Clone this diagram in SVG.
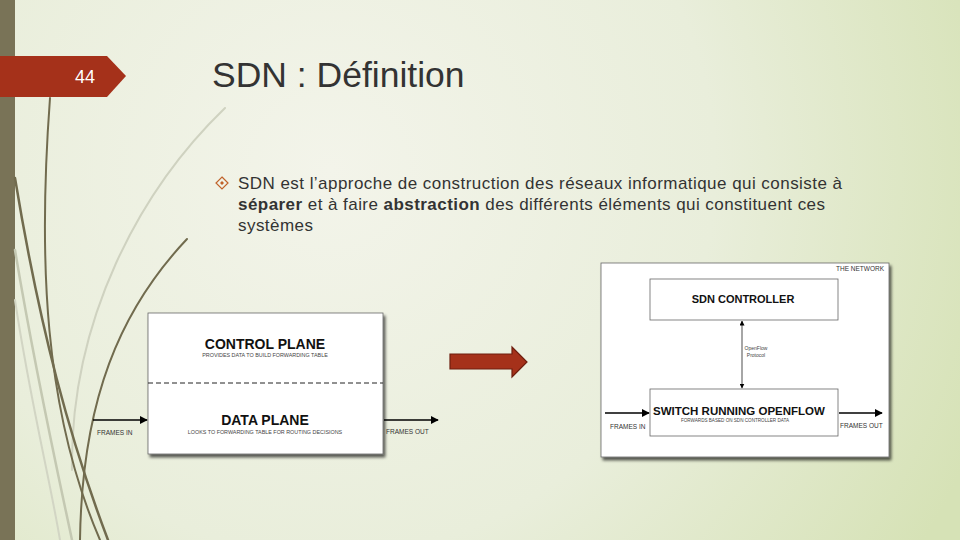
<svg xmlns="http://www.w3.org/2000/svg" width="960" height="540" viewBox="0 0 960 540">
<defs>
<radialGradient id="bg" cx="330" cy="170" r="700" gradientUnits="userSpaceOnUse">
<stop offset="0" stop-color="#f3f4ea"/>
<stop offset="0.55" stop-color="#e9eedb"/>
<stop offset="1" stop-color="#d6e2b6"/>
</radialGradient>
<filter id="sh" x="-10%" y="-10%" width="130%" height="130%">
<feGaussianBlur in="SourceAlpha" stdDeviation="1.8"/>
<feOffset dx="1.5" dy="2.5" result="b"/>
<feComponentTransfer><feFuncA type="linear" slope="0.65"/></feComponentTransfer>
<feMerge><feMergeNode/><feMergeNode in="SourceGraphic"/></feMerge>
</filter>
<marker id="ah" viewBox="0 0 10 10" refX="9" refY="5" markerWidth="8" markerHeight="8" markerUnits="userSpaceOnUse" orient="auto">
<path d="M0,0 L10,5 L0,10 z" fill="#000"/>
</marker>
<marker id="ahs" viewBox="0 0 10 10" refX="9" refY="5" markerWidth="5" markerHeight="5" markerUnits="userSpaceOnUse" orient="auto-start-reverse">
<path d="M0,0 L10,5 L0,10 z" fill="#000"/>
</marker>
<style>
.body{font-family:"Liberation Sans",Arial,sans-serif;font-size:17px;fill:#333}
.b{font-weight:bold}
.big{font-family:"Liberation Sans",Arial,sans-serif;font-weight:bold;fill:#111;text-anchor:middle}
.sm{font-family:"Liberation Sans",Arial,sans-serif;fill:#444;text-anchor:middle}
.lbl{font-family:"Liberation Sans",Arial,sans-serif;font-size:6.5px;fill:#333}
.box{fill:#fff;stroke:#666;stroke-width:0.8}
.conn{stroke:#000;fill:none}
.grass{fill:none;stroke-linecap:round}
</style>
</defs>
<rect width="960" height="540" fill="url(#bg)"/>
<rect x="0" y="0" width="15" height="540" fill="#797357"/>
<g id="grass">
<path class="grass" d="M225,108 C140,190 70,320 72,470" stroke="#cfd2c0" stroke-width="2"/>
<path class="grass" d="M15,250 C35,370 55,460 72,540" stroke="#c4c8b2" stroke-width="2.5"/>
<path class="grass" d="M15,300 C30,400 50,480 60,540" stroke="#d2d5c4" stroke-width="2"/>
<path class="grass" d="M50,98 C38,260 44,410 100,540" stroke="#716b4e" stroke-width="2"/>
<path class="grass" d="M15,178 C40,330 70,440 108,540" stroke="#716b4e" stroke-width="2.5"/>
<path class="grass" d="M187,239 C120,310 82,400 80,540" stroke="#716b4e" stroke-width="2"/>
</g>
<g id="slide-number">
<path d="M0,56 L107,56 L126,76 L107,97 L0,97 z" fill="#a5311a"/>
<text x="85" y="83" font-family="Liberation Sans,Arial,sans-serif" font-size="18" fill="#fff" text-anchor="middle">44</text>
</g>
<text x="212" y="87" font-family="Liberation Sans,Arial,sans-serif" font-size="35.5" fill="#333">SDN : Définition</text>
<g id="bullet">
<path d="M222,177 L228,183 L222,189 L216,183 z" fill="none" stroke="#c0622a" stroke-width="1.2"/>
<path d="M222,181 L224,183 L222,185 L220,183 z" fill="#c0622a"/>
<text class="body" x="238" y="189" textLength="604" lengthAdjust="spacing">SDN est l’approche de construction des réseaux informatique qui consiste à</text>
<text class="body" x="238" y="210" textLength="587" lengthAdjust="spacing"><tspan class="b">séparer</tspan> et à faire <tspan class="b">abstraction</tspan> des différents éléments qui constituent ces</text>
<text class="body" x="238" y="231" textLength="75" lengthAdjust="spacing">systèmes</text>
</g>
<g id="traditional">
<rect class="box" x="148" y="313" width="235" height="141" filter="url(#sh)"/>
<line x1="148" y1="383" x2="383" y2="383" stroke="#222" stroke-width="1" stroke-dasharray="5,3"/>
<text class="big" x="265" y="349" font-size="14">CONTROL PLANE</text>
<text class="sm" x="265" y="357" font-size="5.4">PROVIDES DATA TO BUILD FORWARDING TABLE</text>
<text class="big" x="265" y="425" font-size="14">DATA PLANE</text>
<text class="sm" x="265" y="434" font-size="5.4">LOOKS TO FORWARDING TABLE FOR ROUTING DECISIONS</text>
<text class="lbl" x="97" y="435">FRAMES IN</text>
<text class="lbl" x="386" y="434">FRAMES OUT</text>
</g>
<g id="big-arrow">
<path d="M450,354 L512,354 L512,347 L527,362 L512,377 L512,369 L450,369 z" fill="#a5311a" stroke="#6e1e0e" stroke-width="1.2"/>
</g>
<g id="sdn">
<rect class="box" x="601" y="263" width="288" height="194" filter="url(#sh)"/>
<text class="lbl" x="836" y="271" font-size="5.8">THE NETWORK</text>
<g id="controller">
<rect class="box" x="650" y="279" width="188" height="41"/>
<text class="big" x="743" y="303" font-size="11">SDN CONTROLLER</text>
</g>
<g id="switch">
<rect class="box" x="650" y="389" width="188" height="47"/>
<text class="big" x="739" y="415" font-size="11.5">SWITCH RUNNING OPENFLOW</text>
<text class="sm" x="735" y="422" font-size="4.6">FORWARDS BASED ON SDN CONTROLLER DATA</text>
</g>
<text class="sm" x="756" y="350" font-size="5">OpenFlow</text>
<text class="sm" x="756" y="357" font-size="5">Protocol</text>
<text class="lbl" x="610" y="429" font-size="5.8">FRAMES IN</text>
<text class="lbl" x="840" y="428" font-size="5.8">FRAMES OUT</text>
</g>
<g id="connectors">
<line class="conn" x1="93" y1="420" x2="147" y2="420" stroke-width="1.6" marker-end="url(#ah)"/>
<line class="conn" x1="384" y1="420" x2="438" y2="420" stroke-width="1.6" marker-end="url(#ah)"/>
<line class="conn" x1="742" y1="321" x2="742" y2="388" stroke-width="0.7" stroke="#555" marker-start="url(#ahs)" marker-end="url(#ahs)"/>
<line class="conn" x1="605" y1="413" x2="649" y2="413" stroke-width="1.6" marker-end="url(#ah)"/>
<line class="conn" x1="839" y1="413" x2="882" y2="413" stroke-width="1.6" marker-end="url(#ah)"/>
</g>
</svg>
